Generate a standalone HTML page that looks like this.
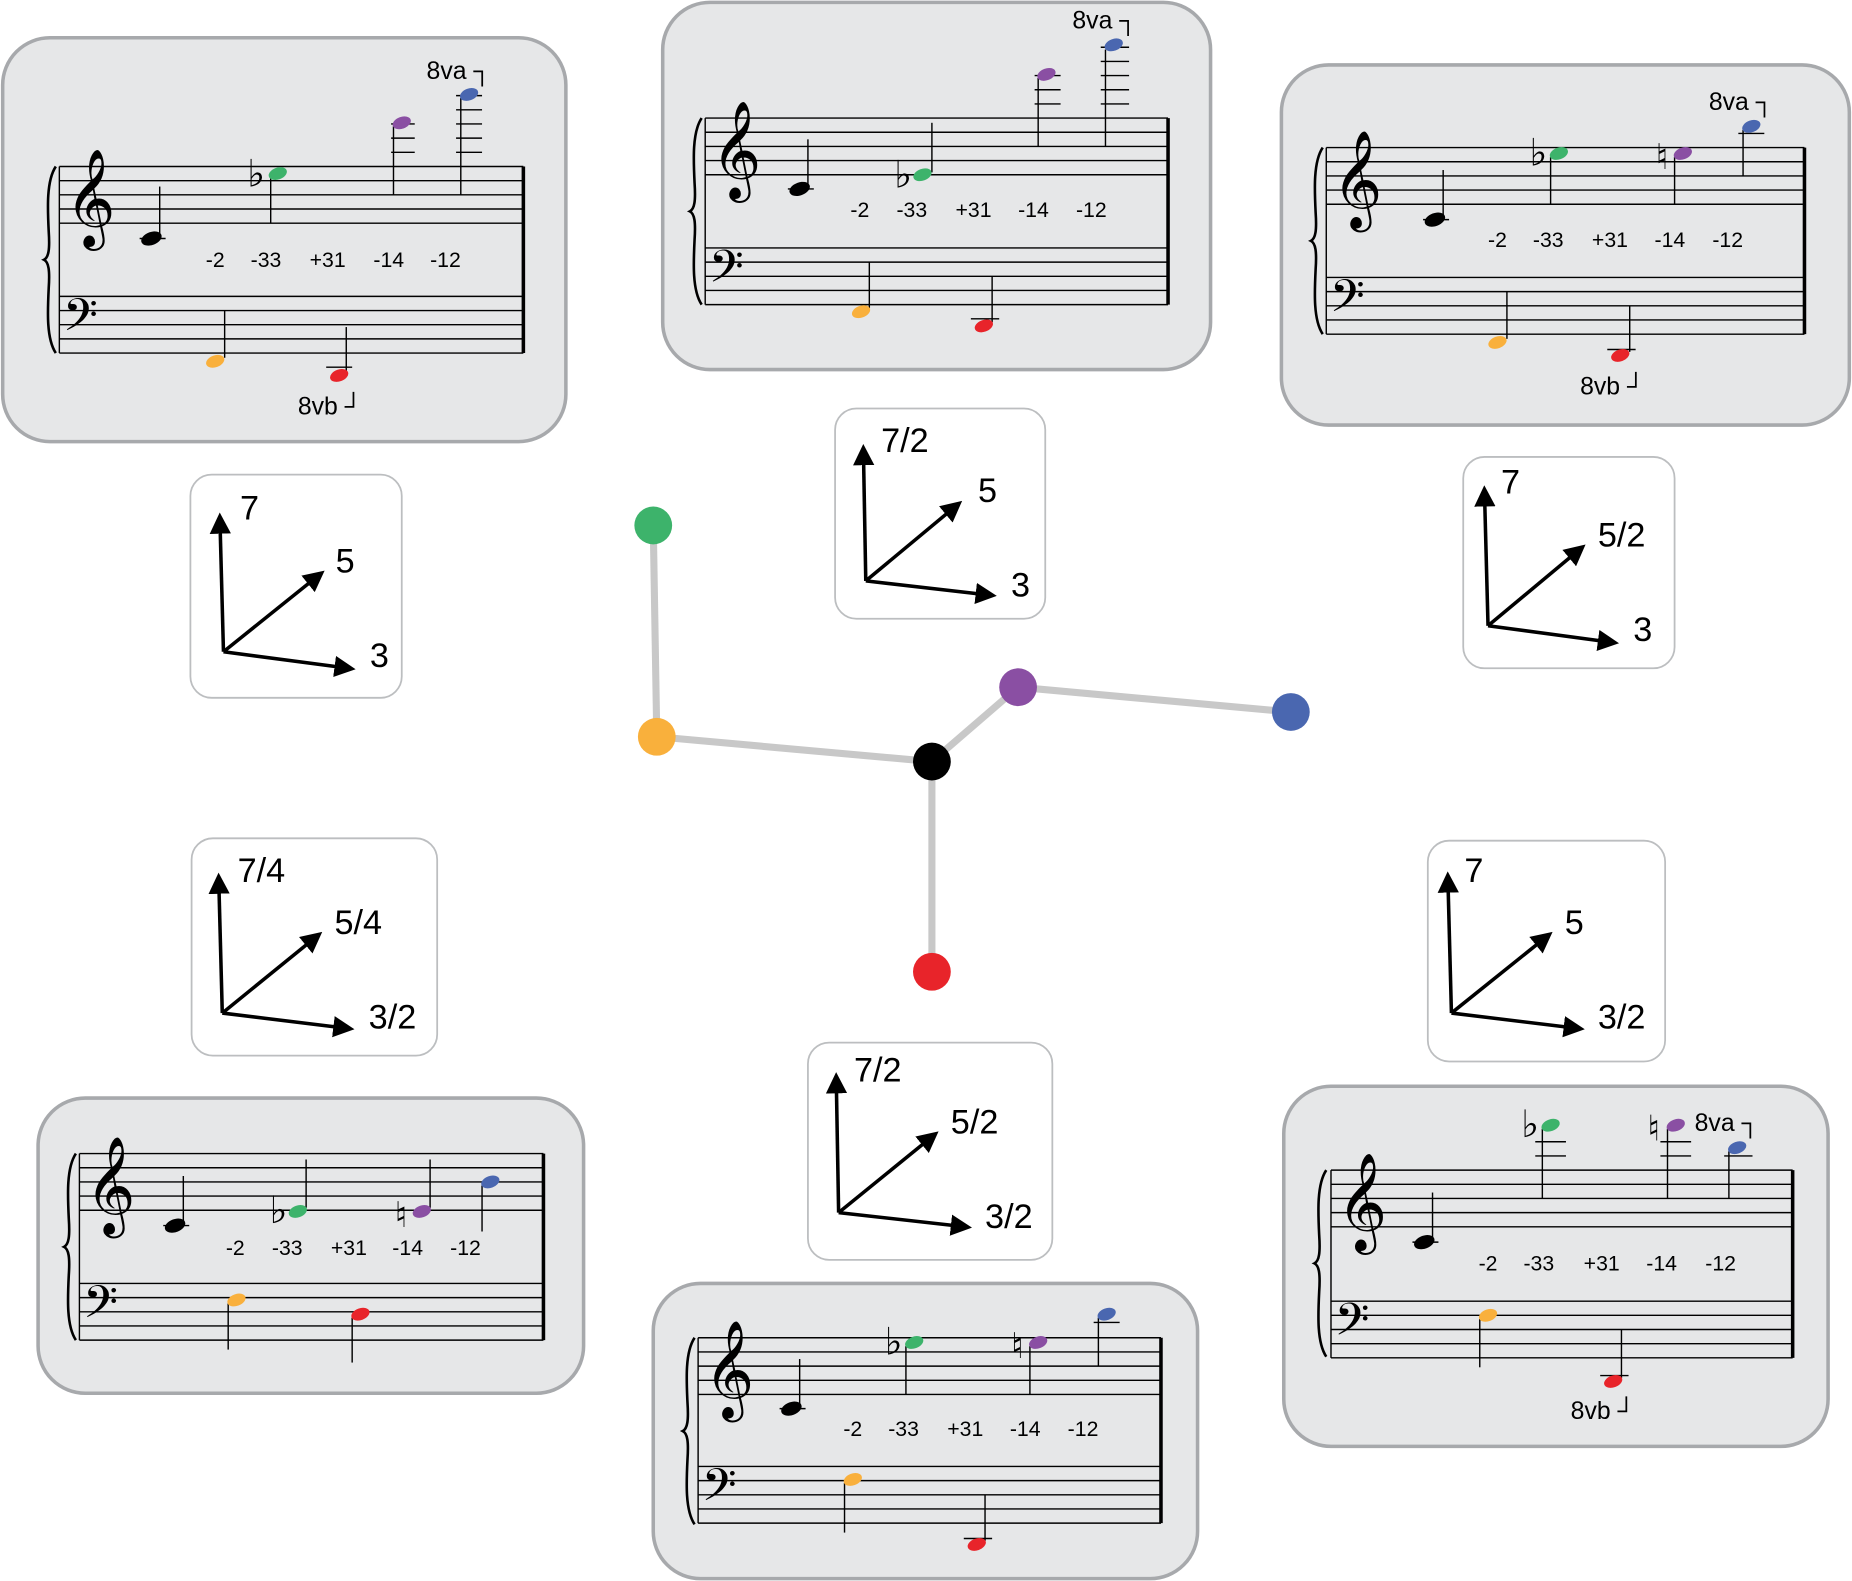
<!DOCTYPE html>
<html><head><meta charset="utf-8"><style>
html,body{margin:0;padding:0;background:#fff;}
svg{display:block}
text{font-family:"Liberation Sans","DejaVu Sans",sans-serif;fill:#000}
.box{fill:#e6e7e8;stroke:#a7a9ac;stroke-width:3}
.ab{fill:#fff;stroke:#bcbec0;stroke-width:1.5}
.st line{stroke:#000;stroke-width:1.2}
.lbl{font-size:18px}
.ax{stroke:#000;stroke-width:3;fill:none}
.axt{font-size:29px}
.cl{font-family:"DejaVu Sans",sans-serif;}
.br{fill:none;stroke:#000;stroke-width:2.2}
</style></head><body>
<svg width="1852" height="1581" viewBox="0 0 1568 1339" xmlns="http://www.w3.org/2000/svg">
<defs>
<marker id="ar" markerWidth="6" markerHeight="6" refX="4" refY="3" orient="auto" markerUnits="strokeWidth"><path d="M0,0 L6,3 L0,6 Z" fill="#000"/></marker>
<path id="brace" d="M10,0 C2,12 3,35 4,55 C5,70 4,77 0,79 C4,81 5,88 4,103 C3,123 2,146 10,158"/>
</defs>

<!-- graph -->
<g stroke="#c8c8c8" stroke-width="6">
<line x1="553" y1="445" x2="556" y2="624"/>
<line x1="556" y1="624" x2="789" y2="645"/>
<line x1="789" y1="645" x2="862" y2="582"/>
<line x1="862" y1="582" x2="1093" y2="603"/>
<line x1="789" y1="645" x2="789" y2="823"/>
</g>
<circle cx="553" cy="445" r="16" fill="#3db36b"/>
<circle cx="556" cy="624" r="16" fill="#f9b03c"/>
<circle cx="789" cy="645" r="16" fill="#000"/>
<circle cx="862" cy="582" r="16" fill="#8a4fa3"/>
<circle cx="1093" cy="603" r="16" fill="#4a67b0"/>
<circle cx="789" cy="823" r="16" fill="#e8242a"/>

<!-- axis boxes -->
<g>
<rect class="ab" x="161" y="402" width="179" height="189" rx="18"/>
<path class="ax" d="M189,552 L186,440" marker-end="url(#ar)"/><path class="ax" d="M189,552 L270,487" marker-end="url(#ar)"/><path class="ax" d="M189,552 L295,566" marker-end="url(#ar)"/>
<text class="axt" x="203" y="440">7</text><text class="axt" x="284" y="485">5</text><text class="axt" x="313" y="565">3</text>

<rect class="ab" x="707" y="346" width="178" height="178" rx="18"/>
<path class="ax" d="M733,492 L731,382" marker-end="url(#ar)"/><path class="ax" d="M733,492 L810,428" marker-end="url(#ar)"/><path class="ax" d="M733,492 L838,504" marker-end="url(#ar)"/>
<text class="axt" x="746" y="383">7/2</text><text class="axt" x="828" y="425">5</text><text class="axt" x="856" y="505">3</text>

<rect class="ab" x="1239" y="387" width="179" height="179" rx="18"/>
<path class="ax" d="M1260,530 L1257,417" marker-end="url(#ar)"/><path class="ax" d="M1260,530 L1338,465" marker-end="url(#ar)"/><path class="ax" d="M1260,530 L1365,544" marker-end="url(#ar)"/>
<text class="axt" x="1271" y="418">7</text><text class="axt" x="1353" y="463">5/2</text><text class="axt" x="1383" y="543">3</text>

<rect class="ab" x="162" y="710" width="208" height="184" rx="18"/>
<path class="ax" d="M188,858 L185,745" marker-end="url(#ar)"/><path class="ax" d="M188,858 L268,793" marker-end="url(#ar)"/><path class="ax" d="M188,858 L294,871" marker-end="url(#ar)"/>
<text class="axt" x="201" y="747">7/4</text><text class="axt" x="283" y="791">5/4</text><text class="axt" x="312" y="871">3/2</text>

<rect class="ab" x="1209" y="712" width="201" height="187" rx="18"/>
<path class="ax" d="M1229,858 L1226,744" marker-end="url(#ar)"/><path class="ax" d="M1229,858 L1310,793" marker-end="url(#ar)"/><path class="ax" d="M1229,858 L1336,871" marker-end="url(#ar)"/>
<text class="axt" x="1240" y="747">7</text><text class="axt" x="1325" y="791">5</text><text class="axt" x="1353" y="871">3/2</text>

<rect class="ab" x="684" y="883" width="207" height="184" rx="18"/>
<path class="ax" d="M710,1027 L708,914" marker-end="url(#ar)"/><path class="ax" d="M710,1027 L790,962" marker-end="url(#ar)"/><path class="ax" d="M710,1027 L817,1039" marker-end="url(#ar)"/>
<text class="axt" x="723" y="916">7/2</text><text class="axt" x="805" y="960">5/2</text><text class="axt" x="834" y="1040">3/2</text>
</g>

<!-- Box 1 top-left -->
<rect class="box" x="2" y="32" width="477" height="342" rx="40"/>
<g class="st">
<line x1="50" y1="141" x2="443" y2="141"/><line x1="50" y1="153" x2="443" y2="153"/><line x1="50" y1="165" x2="443" y2="165"/><line x1="50" y1="177" x2="443" y2="177"/><line x1="50" y1="189" x2="443" y2="189"/>
<line x1="50" y1="251" x2="443" y2="251"/><line x1="50" y1="263" x2="443" y2="263"/><line x1="50" y1="275" x2="443" y2="275"/><line x1="50" y1="287" x2="443" y2="287"/><line x1="50" y1="299" x2="443" y2="299"/>
<line x1="50" y1="141" x2="50" y2="299"/><line x1="443" y1="141" x2="443" y2="299" style="stroke-width:3"/>
<line x1="118" y1="202" x2="140" y2="202"/>
<line x1="135" y1="200" x2="135" y2="158"/><line x1="229" y1="150" x2="229" y2="189"/>
<line x1="331" y1="105" x2="351" y2="105"/><line x1="331" y1="117" x2="351" y2="117"/><line x1="331" y1="129" x2="351" y2="129"/><line x1="333" y1="107" x2="333" y2="165"/>
<line x1="386" y1="81" x2="408" y2="81"/><line x1="386" y1="93" x2="408" y2="93"/><line x1="386" y1="105" x2="408" y2="105"/><line x1="386" y1="117" x2="408" y2="117"/><line x1="386" y1="129" x2="408" y2="129"/><line x1="390" y1="83" x2="390" y2="165"/>
<line x1="190" y1="303" x2="190" y2="263"/><line x1="276" y1="311" x2="298" y2="311"/><line x1="293" y1="315" x2="293" y2="277"/>
</g>
<use href="#brace" class="br" transform="translate(37,141)"/>
<text class="cl" x="55" y="192" font-size="72">𝄞</text><text class="cl" x="53" y="287" font-size="46">𝄢</text>
<ellipse cx="128" cy="202" rx="9" ry="5.5" transform="rotate(-20 128 202)"/>
<text x="209" y="158" font-size="32" class="cl">♭</text>
<ellipse cx="235" cy="147" rx="8" ry="5" fill="#3db36b" transform="rotate(-20 235 147)"/>
<ellipse cx="340" cy="104" rx="8" ry="5" fill="#8a4fa3" transform="rotate(-20 340 104)"/>
<ellipse cx="397" cy="80" rx="8" ry="5" fill="#4a67b0" transform="rotate(-20 397 80)"/>
<ellipse cx="182" cy="306" rx="8" ry="5" fill="#f9b03c" transform="rotate(-20 182 306)"/>
<ellipse cx="287" cy="318" rx="8" ry="5" fill="#e8242a" transform="rotate(-20 287 318)"/>
<g class="lbl"><text x="174" y="226">-2</text><text x="212" y="226">-33</text><text x="262" y="226">+31</text><text x="316" y="226">-14</text><text x="364" y="226">-12</text></g>
<text x="361" y="67" font-size="21">8va ┐</text><text x="252" y="351" font-size="21">8vb ┘</text>

<!-- Box 2 top-middle -->
<rect class="box" x="561" y="2" width="464" height="311" rx="40"/>
<g class="st">
<line x1="597" y1="100" x2="989" y2="100"/><line x1="597" y1="112" x2="989" y2="112"/><line x1="597" y1="124" x2="989" y2="124"/><line x1="597" y1="136" x2="989" y2="136"/><line x1="597" y1="148" x2="989" y2="148"/>
<line x1="597" y1="210" x2="989" y2="210"/><line x1="597" y1="222" x2="989" y2="222"/><line x1="597" y1="234" x2="989" y2="234"/><line x1="597" y1="246" x2="989" y2="246"/><line x1="597" y1="258" x2="989" y2="258"/>
<line x1="597" y1="100" x2="597" y2="258"/><line x1="989" y1="100" x2="989" y2="258" style="stroke-width:3"/>
<line x1="667" y1="160" x2="689" y2="160"/><line x1="684" y1="158" x2="684" y2="118"/><line x1="789" y1="146" x2="789" y2="104"/>
<line x1="876" y1="64" x2="898" y2="64"/><line x1="876" y1="76" x2="898" y2="76"/><line x1="876" y1="88" x2="898" y2="88"/><line x1="879" y1="66" x2="879" y2="124"/>
<line x1="932" y1="40" x2="956" y2="40"/><line x1="932" y1="52" x2="956" y2="52"/><line x1="932" y1="64" x2="956" y2="64"/><line x1="932" y1="76" x2="956" y2="76"/><line x1="932" y1="88" x2="956" y2="88"/><line x1="936" y1="42" x2="936" y2="124"/>
<line x1="736" y1="261" x2="736" y2="222"/><line x1="822" y1="270" x2="846" y2="270"/><line x1="840" y1="273" x2="840" y2="234"/>
</g>
<use href="#brace" class="br" transform="translate(584,100)"/>
<text class="cl" x="602" y="151" font-size="72">𝄞</text><text class="cl" x="600" y="246" font-size="46">𝄢</text>
<ellipse cx="677" cy="160" rx="9" ry="5.5" transform="rotate(-20 677 160)"/>
<text x="757" y="159" font-size="32" class="cl">♭</text>
<ellipse cx="781" cy="148" rx="8" ry="5" fill="#3db36b" transform="rotate(-20 781 148)"/>
<ellipse cx="886" cy="63" rx="8" ry="5" fill="#8a4fa3" transform="rotate(-20 886 63)"/>
<ellipse cx="943" cy="38" rx="8" ry="5" fill="#4a67b0" transform="rotate(-20 943 38)"/>
<ellipse cx="729" cy="264" rx="8" ry="5" fill="#f9b03c" transform="rotate(-20 729 264)"/>
<ellipse cx="833" cy="276" rx="8" ry="5" fill="#e8242a" transform="rotate(-20 833 276)"/>
<g class="lbl"><text x="720" y="184">-2</text><text x="759" y="184">-33</text><text x="809" y="184">+31</text><text x="862" y="184">-14</text><text x="911" y="184">-12</text></g>
<text x="908" y="24" font-size="21">8va ┐</text>

<!-- Box 3 top-right -->
<rect class="box" x="1085" y="55" width="481" height="305" rx="40"/>
<g class="st">
<line x1="1123" y1="125" x2="1528" y2="125"/><line x1="1123" y1="137" x2="1528" y2="137"/><line x1="1123" y1="149" x2="1528" y2="149"/><line x1="1123" y1="161" x2="1528" y2="161"/><line x1="1123" y1="173" x2="1528" y2="173"/>
<line x1="1123" y1="235" x2="1528" y2="235"/><line x1="1123" y1="247" x2="1528" y2="247"/><line x1="1123" y1="259" x2="1528" y2="259"/><line x1="1123" y1="271" x2="1528" y2="271"/><line x1="1123" y1="283" x2="1528" y2="283"/>
<line x1="1123" y1="125" x2="1123" y2="283"/><line x1="1528" y1="125" x2="1528" y2="283" style="stroke-width:3"/>
<line x1="1205" y1="186" x2="1227" y2="186"/><line x1="1222" y1="184" x2="1222" y2="144"/><line x1="1313" y1="133" x2="1313" y2="173"/><line x1="1418" y1="133" x2="1418" y2="173"/>
<line x1="1472" y1="113" x2="1494" y2="113"/><line x1="1476" y1="110" x2="1476" y2="149"/>
<line x1="1276" y1="287" x2="1276" y2="247"/><line x1="1361" y1="296" x2="1385" y2="296"/><line x1="1380" y1="298" x2="1380" y2="259"/>
</g>
<use href="#brace" class="br" transform="translate(1110,125)"/>
<text class="cl" x="1128" y="176" font-size="72">𝄞</text><text class="cl" x="1126" y="271" font-size="46">𝄢</text>
<ellipse cx="1215" cy="186" rx="9" ry="5.5" transform="rotate(-20 1215 186)"/>
<text x="1295" y="140" font-size="32" class="cl">♭</text><text x="1402" y="143" font-size="30" class="cl">♮</text>
<ellipse cx="1320" cy="130" rx="8" ry="5" fill="#3db36b" transform="rotate(-20 1320 130)"/>
<ellipse cx="1425" cy="130" rx="8" ry="5" fill="#8a4fa3" transform="rotate(-20 1425 130)"/>
<ellipse cx="1483" cy="107" rx="8" ry="5" fill="#4a67b0" transform="rotate(-20 1483 107)"/>
<ellipse cx="1268" cy="290" rx="8" ry="5" fill="#f9b03c" transform="rotate(-20 1268 290)"/>
<ellipse cx="1372" cy="301" rx="8" ry="5" fill="#e8242a" transform="rotate(-20 1372 301)"/>
<g class="lbl"><text x="1260" y="209">-2</text><text x="1298" y="209">-33</text><text x="1348" y="209">+31</text><text x="1401" y="209">-14</text><text x="1450" y="209">-12</text></g>
<text x="1447" y="93" font-size="21">8va ┐</text><text x="1338" y="334" font-size="21">8vb ┘</text>

<!-- Box 4 bottom-left -->
<rect class="box" x="32" y="930" width="462" height="250" rx="40"/>
<g class="st">
<line x1="67" y1="977" x2="460" y2="977"/><line x1="67" y1="989" x2="460" y2="989"/><line x1="67" y1="1001" x2="460" y2="1001"/><line x1="67" y1="1013" x2="460" y2="1013"/><line x1="67" y1="1025" x2="460" y2="1025"/>
<line x1="67" y1="1087" x2="460" y2="1087"/><line x1="67" y1="1099" x2="460" y2="1099"/><line x1="67" y1="1111" x2="460" y2="1111"/><line x1="67" y1="1123" x2="460" y2="1123"/><line x1="67" y1="1135" x2="460" y2="1135"/>
<line x1="67" y1="977" x2="67" y2="1135"/><line x1="460" y1="977" x2="460" y2="1135" style="stroke-width:3"/>
<line x1="138" y1="1038" x2="160" y2="1038"/><line x1="155" y1="1036" x2="155" y2="996"/><line x1="259" y1="1023" x2="259" y2="982"/><line x1="364" y1="1023" x2="364" y2="982"/><line x1="408" y1="1004" x2="408" y2="1043"/>
<line x1="193" y1="1104" x2="193" y2="1143"/><line x1="298" y1="1116" x2="298" y2="1154"/>
</g>
<use href="#brace" class="br" transform="translate(54,977)"/>
<text class="cl" x="72" y="1028" font-size="72">𝄞</text><text class="cl" x="70" y="1123" font-size="46">𝄢</text>
<ellipse cx="148" cy="1038" rx="9" ry="5.5" transform="rotate(-20 148 1038)"/>
<text x="228" y="1036" font-size="32" class="cl">♭</text><text x="334" y="1039" font-size="30" class="cl">♮</text>
<ellipse cx="252" cy="1026" rx="8" ry="5" fill="#3db36b" transform="rotate(-20 252 1026)"/>
<ellipse cx="357" cy="1026" rx="8" ry="5" fill="#8a4fa3" transform="rotate(-20 357 1026)"/>
<ellipse cx="415" cy="1001" rx="8" ry="5" fill="#4a67b0" transform="rotate(-20 415 1001)"/>
<ellipse cx="200" cy="1101" rx="8" ry="5" fill="#f9b03c" transform="rotate(-20 200 1101)"/>
<ellipse cx="305" cy="1113" rx="8" ry="5" fill="#e8242a" transform="rotate(-20 305 1113)"/>
<g class="lbl"><text x="191" y="1063">-2</text><text x="230" y="1063">-33</text><text x="280" y="1063">+31</text><text x="332" y="1063">-14</text><text x="381" y="1063">-12</text></g>

<!-- Box 5 bottom-middle -->
<rect class="box" x="553" y="1087" width="461" height="250" rx="40"/>
<g class="st">
<line x1="591" y1="1133" x2="983" y2="1133"/><line x1="591" y1="1145" x2="983" y2="1145"/><line x1="591" y1="1157" x2="983" y2="1157"/><line x1="591" y1="1169" x2="983" y2="1169"/><line x1="591" y1="1181" x2="983" y2="1181"/>
<line x1="591" y1="1242" x2="983" y2="1242"/><line x1="591" y1="1254" x2="983" y2="1254"/><line x1="591" y1="1266" x2="983" y2="1266"/><line x1="591" y1="1278" x2="983" y2="1278"/><line x1="591" y1="1290" x2="983" y2="1290"/>
<line x1="591" y1="1133" x2="591" y2="1290"/><line x1="983" y1="1133" x2="983" y2="1290" style="stroke-width:3"/>
<line x1="660" y1="1193" x2="682" y2="1193"/><line x1="677" y1="1191" x2="677" y2="1151"/><line x1="767" y1="1140" x2="767" y2="1181"/><line x1="872" y1="1140" x2="872" y2="1181"/>
<line x1="926" y1="1120" x2="948" y2="1120"/><line x1="930" y1="1116" x2="930" y2="1157"/>
<line x1="715" y1="1256" x2="715" y2="1298"/><line x1="816" y1="1303" x2="840" y2="1303"/><line x1="834" y1="1305" x2="834" y2="1266"/>
</g>
<use href="#brace" class="br" transform="translate(578,1133)"/>
<text class="cl" x="596" y="1184" font-size="72">𝄞</text><text class="cl" x="594" y="1278" font-size="46">𝄢</text>
<ellipse cx="670" cy="1193" rx="9" ry="5.5" transform="rotate(-20 670 1193)"/>
<text x="749" y="1147" font-size="32" class="cl">♭</text><text x="856" y="1150" font-size="30" class="cl">♮</text>
<ellipse cx="774" cy="1137" rx="8" ry="5" fill="#3db36b" transform="rotate(-20 774 1137)"/>
<ellipse cx="879" cy="1137" rx="8" ry="5" fill="#8a4fa3" transform="rotate(-20 879 1137)"/>
<ellipse cx="937" cy="1113" rx="8" ry="5" fill="#4a67b0" transform="rotate(-20 937 1113)"/>
<ellipse cx="722" cy="1253" rx="8" ry="5" fill="#f9b03c" transform="rotate(-20 722 1253)"/>
<ellipse cx="827" cy="1308" rx="8" ry="5" fill="#e8242a" transform="rotate(-20 827 1308)"/>
<g class="lbl"><text x="714" y="1216">-2</text><text x="752" y="1216">-33</text><text x="802" y="1216">+31</text><text x="855" y="1216">-14</text><text x="904" y="1216">-12</text></g>

<!-- Box 6 bottom-right -->
<rect class="box" x="1087" y="920" width="461" height="305" rx="40"/>
<g class="st">
<line x1="1127" y1="991" x2="1518" y2="991"/><line x1="1127" y1="1003" x2="1518" y2="1003"/><line x1="1127" y1="1015" x2="1518" y2="1015"/><line x1="1127" y1="1027" x2="1518" y2="1027"/><line x1="1127" y1="1039" x2="1518" y2="1039"/>
<line x1="1127" y1="1102" x2="1518" y2="1102"/><line x1="1127" y1="1114" x2="1518" y2="1114"/><line x1="1127" y1="1126" x2="1518" y2="1126"/><line x1="1127" y1="1138" x2="1518" y2="1138"/><line x1="1127" y1="1150" x2="1518" y2="1150"/>
<line x1="1127" y1="991" x2="1127" y2="1150"/><line x1="1518" y1="991" x2="1518" y2="1150" style="stroke-width:3"/>
<line x1="1196" y1="1052" x2="1218" y2="1052"/><line x1="1213" y1="1050" x2="1213" y2="1010"/>
<line x1="1300" y1="967" x2="1326" y2="967"/><line x1="1300" y1="979" x2="1326" y2="979"/><line x1="1306" y1="956" x2="1306" y2="1015"/>
<line x1="1406" y1="967" x2="1432" y2="967"/><line x1="1406" y1="979" x2="1432" y2="979"/><line x1="1412" y1="956" x2="1412" y2="1015"/>
<line x1="1460" y1="979" x2="1484" y2="979"/><line x1="1464" y1="975" x2="1464" y2="1015"/>
<line x1="1253" y1="1117" x2="1253" y2="1158"/><line x1="1355" y1="1165" x2="1379" y2="1165"/><line x1="1373" y1="1167" x2="1373" y2="1126"/>
</g>
<use href="#brace" class="br" transform="translate(1113,991)"/>
<text class="cl" x="1132" y="1042" font-size="72">𝄞</text><text class="cl" x="1130" y="1138" font-size="46">𝄢</text>
<ellipse cx="1206" cy="1052" rx="9" ry="5.5" transform="rotate(-20 1206 1052)"/>
<text x="1288" y="963" font-size="32" class="cl">♭</text><text x="1395" y="966" font-size="30" class="cl">♮</text>
<ellipse cx="1313" cy="953" rx="8" ry="5" fill="#3db36b" transform="rotate(-20 1313 953)"/>
<ellipse cx="1419" cy="953" rx="8" ry="5" fill="#8a4fa3" transform="rotate(-20 1419 953)"/>
<ellipse cx="1471" cy="972" rx="8" ry="5" fill="#4a67b0" transform="rotate(-20 1471 972)"/>
<ellipse cx="1260" cy="1114" rx="8" ry="5" fill="#f9b03c" transform="rotate(-20 1260 1114)"/>
<ellipse cx="1366" cy="1170" rx="8" ry="5" fill="#e8242a" transform="rotate(-20 1366 1170)"/>
<g class="lbl"><text x="1252" y="1076">-2</text><text x="1290" y="1076">-33</text><text x="1341" y="1076">+31</text><text x="1394" y="1076">-14</text><text x="1444" y="1076">-12</text></g>
<text x="1435" y="958" font-size="21">8va ┐</text><text x="1330" y="1202" font-size="21">8vb ┘</text>
</svg>
</body></html>
